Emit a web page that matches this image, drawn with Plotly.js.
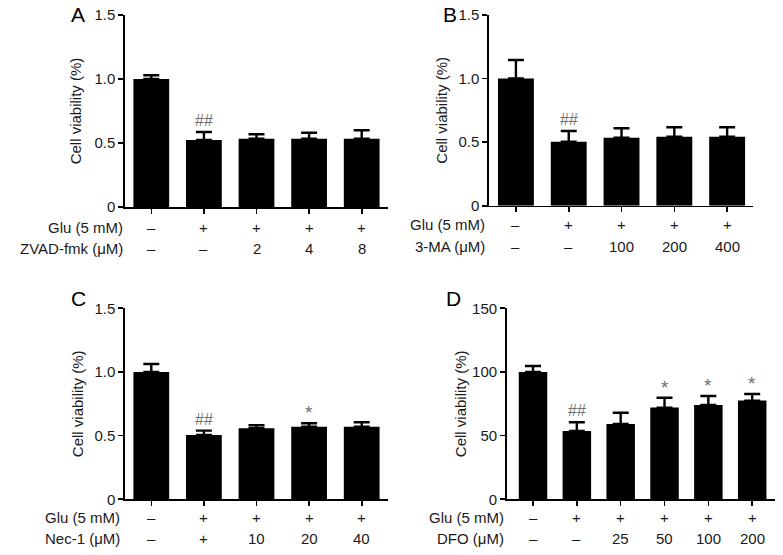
<!DOCTYPE html>
<html>
<head>
<meta charset="utf-8">
<script src="https://cdn.plot.ly/plotly-3.0.1.min.js"></script>
<style>html,body{margin:0;padding:0;background:#fff;}#chart{width:783px;height:555px;}</style>
</head>
<body>
<div id="chart"></div>
<script>
// ---- Data ----
const rowGluLabel = 'Glu (5 mM)';

const aDoseLabel = 'ZVAD-fmk (μM)';
const aGlu  = ['–', '+', '+', '+', '+'];
const aDose = ['–', '–', '2', '4', '8'];
const aMean = [1.00, 0.523, 0.534, 0.534, 0.534];
const aErr  = [0.029, 0.063, 0.034, 0.046, 0.066];
const aMarks = ['', '##', '', '', ''];

const bDoseLabel = '3-MA (μM)';
const bGlu  = ['–', '+', '+', '+', '+'];
const bDose = ['–', '–', '100', '200', '400'];
const bMean = [1.00, 0.503, 0.535, 0.543, 0.543];
const bErr  = [0.146, 0.085, 0.074, 0.074, 0.074];
const bMarks = ['', '##', '', '', ''];

const cDoseLabel = 'Nec-1 (μM)';
const cGlu  = ['–', '+', '+', '+', '+'];
const cDose = ['–', '+', '10', '20', '40'];
const cMean = [1.00, 0.505, 0.558, 0.570, 0.570];
const cErr  = [0.063, 0.034, 0.023, 0.027, 0.035];
const cMarks = ['', '##', '', '*', ''];

const dDoseLabel = 'DFO (μM)';
const dGlu  = ['–', '+', '+', '+', '+', '+'];
const dDose = ['–', '–', '25', '50', '100', '200'];
const dMean = [100, 53.6, 59.2, 72.0, 74.1, 77.5];
const dErr  = [4.7, 6.9, 8.8, 7.8, 7.0, 5.2];
const dMarks = ['', '##', '', '*', '*', '*'];

const yTicksFrac = [0, 0.5, 1.0, 1.5];
const yTickTextFrac = ['0', '0.5', '1.0', '1.5'];
const yTicksPct = [0, 50, 100, 150];
const yTickTextPct = ['0', '50', '100', '150'];

// ---- Layout helpers ----
const W = 783, H = 555;
const FONT = 'Liberation Sans, Arial, sans-serif';
const FS = 15;
const TXT = '#1a1a1a';
const px2x = p => p / W;
const px2y = p => 1 - p / H;

const panels = [
  {letter: 'A', mean: aMean, err: aErr, glu: aGlu, dose: aDose, doseLabel: aDoseLabel, marks: aMarks,
   yticks: yTicksFrac, yticktext: yTickTextFrac, ymax: 1.5,
   x0: 125, x1: 388, y0: 207, y1: 15, xr: [-0.5, 4.5], bw: 0.68, standoff: 9,
   letterX: 78, letterY: 15, gluY: 227, doseY: 248, labelRight: 125},
  {letter: 'B', mean: bMean, err: bErr, glu: bGlu, dose: bDose, doseLabel: bDoseLabel, marks: bMarks,
   yticks: yTicksFrac, yticktext: yTickTextFrac, ymax: 1.5,
   x0: 489, x1: 753, y0: 205.7, y1: 15, xr: [-0.51, 4.49], bw: 0.68, standoff: 7,
   letterX: 450, letterY: 15, gluY: 224, doseY: 246, labelRight: 487},
  {letter: 'C', mean: cMean, err: cErr, glu: cGlu, dose: cDose, doseLabel: cDoseLabel, marks: cMarks,
   yticks: yTicksFrac, yticktext: yTickTextFrac, ymax: 1.5,
   x0: 125, x1: 388, y0: 499.3, y1: 308.3, xr: [-0.5, 4.5], bw: 0.68, standoff: 7,
   letterX: 78, letterY: 298, gluY: 517, doseY: 538, labelRight: 122},
  {letter: 'D', mean: dMean, err: dErr, glu: dGlu, dose: dDose, doseLabel: dDoseLabel, marks: dMarks,
   yticks: yTicksPct, yticktext: yTickTextPct, ymax: 150,
   x0: 506.7, x1: 775, y0: 499.3, y1: 308.3, xr: [-0.6, 5.52], bw: 0.65, standoff: 2,
   letterX: 453, letterY: 298, gluY: 517, doseY: 538, labelRight: 506}
];

const data = [];
const layout = {
  width: W, height: H,
  margin: {l: 0, r: 0, t: 0, b: 0},
  paper_bgcolor: '#fff', plot_bgcolor: '#fff',
  showlegend: false,
  font: {family: FONT, size: FS, color: TXT},
  annotations: []
};

panels.forEach((p, i) => {
  const n = i + 1;
  const xa = n === 1 ? 'x' : 'x' + n;
  const ya = n === 1 ? 'y' : 'y' + n;
  const idx = p.mean.map((_, k) => k);
  data.push({
    type: 'bar', x: idx, y: p.mean, xaxis: xa, yaxis: ya,
    width: p.bw,
    marker: {color: '#000', line: {width: 0}},
    error_y: {type: 'data', symmetric: false, array: p.err, arrayminus: p.err.map(() => 0),
              color: '#000', thickness: 2.4, width: 8},
    hoverinfo: 'skip'
  });
  layout['xaxis' + (n === 1 ? '' : n)] = {
    domain: [px2x(p.x0), px2x(p.x1)], anchor: ya, range: p.xr,
    showline: true, linecolor: '#000', linewidth: 1.6,
    ticks: 'outside', ticklen: 5, tickwidth: 1.6, tickcolor: '#000',
    tickvals: idx, showticklabels: false, showgrid: false, zeroline: false, fixedrange: true
  };
  layout['yaxis' + (n === 1 ? '' : n)] = {
    domain: [px2y(p.y0), px2y(p.y1)], anchor: xa, range: [0, p.ymax],
    showline: true, linecolor: '#000', linewidth: 1.6,
    ticks: 'outside', ticklen: 5, tickwidth: 1.6, tickcolor: '#000',
    tickvals: p.yticks, ticktext: p.yticktext, tickfont: {size: FS, color: TXT},
    showgrid: false, zeroline: false, fixedrange: true,
    title: {text: 'Cell viability (%)', font: {size: FS, color: TXT}, standoff: p.standoff}
  };
  layout.annotations.push({xref: 'paper', yref: 'paper', x: px2x(p.letterX), y: px2y(p.letterY),
    text: p.letter, showarrow: false, xanchor: 'center', yanchor: 'middle',
    font: {size: 21, color: '#000'}});
  layout.annotations.push({xref: 'paper', yref: 'paper', x: px2x(p.labelRight), y: px2y(p.gluY),
    text: rowGluLabel, showarrow: false, xanchor: 'right', yanchor: 'middle', font: {size: FS}});
  layout.annotations.push({xref: 'paper', yref: 'paper', x: px2x(p.labelRight), y: px2y(p.doseY),
    text: p.doseLabel, showarrow: false, xanchor: 'right', yanchor: 'middle', font: {size: FS}});
  idx.forEach(k => {
    layout.annotations.push({xref: xa, yref: 'paper', x: k, y: px2y(p.gluY),
      text: p.glu[k], showarrow: false, xanchor: 'center', yanchor: 'middle', font: {size: FS}});
    layout.annotations.push({xref: xa, yref: 'paper', x: k, y: px2y(p.doseY),
      text: p.dose[k], showarrow: false, xanchor: 'center', yanchor: 'middle', font: {size: FS}});
    if (p.marks[k]) {
      const star = p.marks[k] === '*';
      layout.annotations.push({xref: xa, yref: ya, x: k, y: p.mean[k] + p.err[k],
        text: p.marks[k], showarrow: false, xanchor: 'center', yanchor: 'bottom',
        yshift: star ? -2 : 1,
        font: {size: star ? 19 : 16, color: '#707070'}});
    }
  });
});

Plotly.newPlot('chart', data, layout, {displayModeBar: false, staticPlot: true});
</script>
</body>
</html>
